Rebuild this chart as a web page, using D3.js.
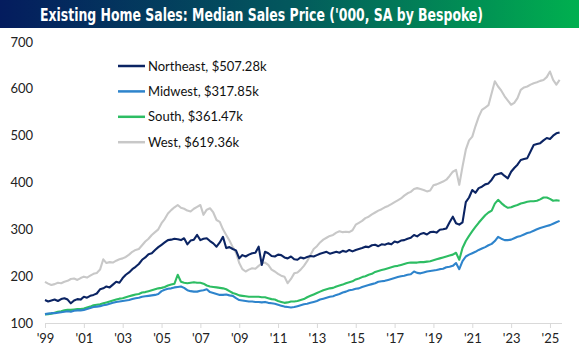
<!DOCTYPE html>
<html><head><meta charset="utf-8">
<script src="https://cdn.jsdelivr.net/npm/d3@7"></script>
<style>
html,body{margin:0;padding:0;background:#fff;}
svg{display:block;font-family:Lato, "Open Sans", sans-serif;}
</style></head>
<body>
<svg id="chart" width="579" height="355"></svg>
<script>
// Bi-monthly samples (Jan, Mar, May, Jul, Sep, Nov) from Jan 1999 through Jul 2025, $ thousands
const startYear = 1999;
const seriesNames = ["Northeast, $507.28k", "Midwest, $317.85k", "South, $361.47k", "West, $619.36k"];
const seriesColors = ["#0b2463", "#2e84cc", "#2dbd63", "#c8c8c8"];
const northeast = [
149,146,148,150,147,151, 153,150,142,148,151,150, 156,154,158,160,163,172, 174,178,176,182,188,186,
196,203,208,215,220,226, 235,240,247,249,256,262, 267,272,277,278,280,279, 277,281,268,276,278,288,
277,280,281,275,270,263, 272,284,260,262,258,255, 238,245,242,246,249,250, 263,224,252,249,243,242,
246,245,240,238,242,236, 235,240,238,241,243,242, 245,248,250,252,248,250, 252,250,254,252,256,253,
256,258,260,263,262,266, 267,264,268,267,270,268, 274,272,276,277,280,282, 288,285,290,292,289,294,
295,293,299,300,302,315, 327,313,310,315,358,368, 384,378,388,391,396,398, 406,416,418,420,414,409,
423,431,438,448,450,452, 466,480,482,484,490,495, 493,500,505,507
];
const midwest = [
119,120,121,121,122,123, 124,125,124,126,127,127, 128,130,132,134,135,136, 138,139,141,143,145,146,
147,148,149,151,153,154, 156,157,158,159,160,162, 168,171,173,174,176,177, 178,175,170,168,167,167,
169,170,172,166,164,162, 160,160,161,159,158,153, 149,148,147,146,146,145, 145,144,145,143,142,141,
139,137,135,134,133,134, 136,138,140,141,143,145, 147,150,152,154,156,157, 160,162,165,167,170,171,
173,174,177,179,181,183, 185,188,189,190,192,194, 196,198,200,201,203,204, 210,207,206,208,210,211,
212,213,215,216,219,220, 222,228,215,232,242,246, 249,252,256,259,262,266, 269,275,284,280,277,277,
278,281,284,286,289,292, 294,297,300,303,305,307, 309,312,315,318
];
const south = [
118,119,120,122,124,125, 127,128,128,129,130,130, 131,133,135,138,139,140, 142,144,146,148,150,152,
153,155,157,159,161,162, 165,166,168,170,172,174, 175,177,180,182,184,203, 188,186,185,186,187,186,
186,184,180,178,177,176, 175,174,172,168,164,162, 159,158,157,156,156,156, 156,155,155,153,151,150,
147,145,143,144,146,146, 147,149,151,155,158,161, 164,167,170,172,174,175, 178,180,182,185,187,189,
193,195,198,200,203,205, 209,211,213,215,217,219, 221,222,224,226,228,229, 229,229,230,230,231,232,
234,236,238,240,242,244, 246,250,235,260,275,286, 296,305,314,322,330,336, 340,355,363,356,350,346,
347,350,352,355,357,359, 360,360,361,364,368,368, 365,361,362,361
];
const west = [
188,184,181,183,186,185, 188,190,194,195,192,196, 199,197,201,205,207,214, 236,228,230,229,233,236,
238,241,246,252,256,258, 266,274,280,288,294,300, 313,322,334,341,347,352, 346,344,340,338,344,348,
352,331,342,345,336,320, 316,300,288,276,262,250, 228,215,210,214,217,216, 222,227,229,224,214,210,
205,201,199,185,194,206, 208,214,222,232,245,258, 264,272,278,282,286,288, 293,296,294,295,294,298,
310,314,318,324,327,332, 336,340,343,347,350,354, 358,362,366,372,377,380, 386,388,386,384,381,383,
394,396,399,402,406,414, 423,427,395,434,470,490, 498,520,540,555,560,565, 591,616,605,596,584,575,
566,570,580,598,603,605, 609,612,614,617,619,625, 637,619,609,619
];
const yTicks = [100, 200, 300, 400, 500, 600, 700];
const xTickYears = [1999,2001,2003,2005,2007,2009,2011,2013,2015,2017,2019,2021,2023,2025];
const xTickLabels = ["'99","'01","'03","'05","'07","'09","'11","'13","'15","'17","'19","'21","'23","'25"];
const title = "Existing Home Sales: Median Sales Price ('000, SA by Bespoke)";

const svg = d3.select("#chart");
const W = 579, H = 355;

// title bar with gradient
const defs = svg.append("defs");
const grad = defs.append("linearGradient").attr("id","tg").attr("x1","0%").attr("x2","100%");
grad.append("stop").attr("offset","0%").attr("stop-color","#041c5e");
grad.append("stop").attr("offset","50%").attr("stop-color","#03585d");
grad.append("stop").attr("offset","100%").attr("stop-color","#00b04f");
svg.append("rect").attr("x",0).attr("y",0).attr("width",W).attr("height",28).attr("fill","url(#tg)");
svg.append("text").attr("x",40).attr("y",20.5).attr("fill","#fff")
  .attr("font-family","'Liberation Sans Narrow', 'DejaVu Sans Condensed', Lato, sans-serif")
  .attr("font-size",17.5).attr("font-weight","bold")
  .attr("textLength",443).attr("lengthAdjust","spacingAndGlyphs")
  .text(title);

const toDate = i => new Date(Date.UTC(startYear, 2*i, 1));
const x = d3.scaleUtc().domain([new Date(Date.UTC(1999,0,1)), new Date(Date.UTC(2025,7,15))]).range([45, 562]);
const y = d3.scaleLinear().domain([100, 700]).range([323, 42]);

// y labels
svg.append("g").selectAll("text").data(yTicks).join("text")
  .attr("x", 33).attr("y", d => y(d)).attr("dy","0.35em")
  .attr("text-anchor","end").attr("font-size",13).attr("fill","#222").text(d => d);

// x axis
const xAxis = d3.axisBottom(x)
  .tickValues(xTickYears.map(yr => new Date(Date.UTC(yr,0,1))))
  .tickFormat((d,i) => xTickLabels[i]).tickSize(5).tickPadding(6);
const gx = svg.append("g").attr("transform","translate(0,323)").call(xAxis);
gx.select(".domain").attr("stroke","#d9d9d9").attr("d","M45,0.5H562");
gx.selectAll(".tick line").attr("stroke","#d9d9d9");
gx.selectAll(".tick text").attr("font-size",13).attr("fill","#222").attr("font-family","Lato, sans-serif");

// lines
const line = d3.line().x((d,i) => x(toDate(i))).y(d => y(d));
const data = [northeast, midwest, south, west];
const order = [3, 2, 1, 0];
order.forEach(k => {
  svg.append("path").datum(data[k]).attr("fill","none")
    .attr("stroke", seriesColors[k]).attr("stroke-width", 2.1)
    .attr("stroke-linejoin","round").attr("d", line);
});

// legend
const lg = svg.append("g");
seriesNames.forEach((n, k) => {
  const ly = 66 + k*25.4;
  lg.append("line").attr("x1",118).attr("x2",145).attr("y1",ly).attr("y2",ly)
    .attr("stroke",seriesColors[k]).attr("stroke-width",2.5);
  lg.append("text").attr("x",148).attr("y",ly).attr("dy","0.35em")
    .attr("font-size",13).attr("fill","#111").text(n);
});
</script>
</body></html>
